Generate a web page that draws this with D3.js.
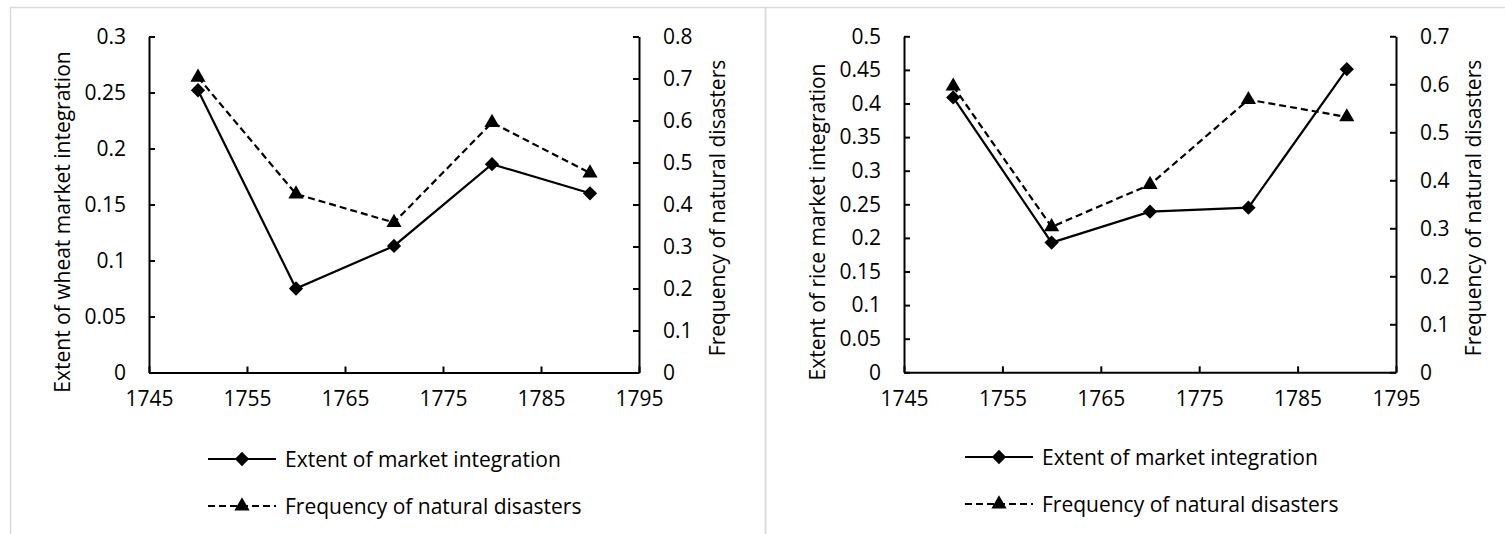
<!DOCTYPE html>
<html>
<head>
<meta charset="utf-8">
<script src="https://cdn.jsdelivr.net/npm/d3@7"></script>
<style>
  body { margin: 0; background: white; }
  svg { display: block; font-family: "Open Sans", sans-serif; }
</style>
</head>
<body>
<div id="container"></div>
<script>
let w = 1505;
let h = 534;

// DATA
let years = [1750, 1760, 1770, 1780, 1790];
let wheatIntegration = [0.252, 0.075, 0.113, 0.186, 0.160];
let wheatDisasters = [0.703, 0.425, 0.357, 0.595, 0.475];
let riceIntegration = [0.409, 0.193, 0.239, 0.245, 0.451];
let riceDisasters = [0.596, 0.303, 0.391, 0.568, 0.532];

let xTicks = [1745, 1755, 1765, 1775, 1785, 1795];
let wheatLeftTicks = [0, 0.05, 0.1, 0.15, 0.2, 0.25, 0.3];
let wheatRightTicks = [0, 0.1, 0.2, 0.3, 0.4, 0.5, 0.6, 0.7, 0.8];
let riceLeftTicks = [0, 0.05, 0.1, 0.15, 0.2, 0.25, 0.3, 0.35, 0.4, 0.45, 0.5];
let riceRightTicks = [0, 0.1, 0.2, 0.3, 0.4, 0.5, 0.6, 0.7];

let legendLabels = ["Extent of market integration", "Frequency of natural disasters"];

let fontSize = 21;

let viz = d3.select("#container").append("svg")
    .attr("width", w)
    .attr("height", h);

// chart frames
viz.append("rect")
    .attr("x", 10.5).attr("y", 7.5)
    .attr("width", 755).attr("height", 600)
    .attr("fill", "none").attr("stroke", "#d9d9d9").attr("stroke-width", 1.5);
viz.append("rect")
    .attr("x", 765.5).attr("y", 7.5)
    .attr("width", 800).attr("height", 600)
    .attr("fill", "none").attr("stroke", "#d9d9d9").attr("stroke-width", 1.5);

let diamond = d3.symbol().type(d3.symbolDiamond2).size(130);
let triangle = d3.symbol().type(d3.symbolTriangle).size(100);

function fmt(v) {
  return String(+v.toFixed(2));
}

function drawChart(cfg) {
  let g = viz.append("g");

  let x = d3.scaleLinear().domain([1745, 1795]).range([cfg.left, cfg.right]);
  let yL = d3.scaleLinear().domain([0, cfg.leftMax]).range([cfg.bottom, cfg.top]);
  let yR = d3.scaleLinear().domain([0, cfg.rightMax]).range([cfg.bottom, cfg.top]);

  // axes
  let xAxis = d3.axisBottom(x).tickValues(xTicks).tickSizeInner(-6).tickSizeOuter(0).tickPadding(19).tickFormat(d3.format("d"));
  let leftAxis = d3.axisLeft(yL).tickValues(cfg.leftTicks).tickSizeInner(-6).tickSizeOuter(0).tickPadding(23).tickFormat(fmt);
  let rightAxis = d3.axisRight(yR).tickValues(cfg.rightTicks).tickSizeInner(-6).tickSizeOuter(0).tickPadding(24).tickFormat(fmt);

  let axes = [
    g.append("g").attr("transform", "translate(0," + cfg.bottom + ")").call(xAxis),
    g.append("g").attr("transform", "translate(" + cfg.left + ",0)").call(leftAxis),
    g.append("g").attr("transform", "translate(" + cfg.right + ",0)").call(rightAxis)
  ];
  axes.forEach(a => {
    a.select(".domain").attr("stroke", "black").attr("stroke-width", 2);
    a.selectAll(".tick line").attr("stroke", "black").attr("stroke-width", 2);
    a.selectAll(".tick text").attr("font-size", fontSize).attr("fill", "black")
      .attr("font-family", "'Open Sans', sans-serif");
  });

  // axis titles
  g.append("text")
      .attr("transform", "translate(" + cfg.leftTitleX + ",222) rotate(-90)")
      .attr("text-anchor", "middle")
      .attr("dominant-baseline", "central")
      .attr("font-size", fontSize)
      .text(cfg.leftTitle);
  g.append("text")
      .attr("transform", "translate(" + cfg.rightTitleX + ",208) rotate(-90)")
      .attr("text-anchor", "middle")
      .attr("dominant-baseline", "central")
      .attr("font-size", fontSize)
      .text("Frequency of natural disasters");

  let integ = years.map((d, i) => ({year: d, v: cfg.integration[i]}));
  let dis = years.map((d, i) => ({year: d, v: cfg.disasters[i]}));

  let lineL = d3.line().x(d => x(d.year)).y(d => yL(d.v));
  let lineR = d3.line().x(d => x(d.year)).y(d => yR(d.v));

  g.append("path").datum(integ)
      .attr("d", lineL).attr("fill", "none")
      .attr("stroke", "black").attr("stroke-width", 2.2);
  g.append("path").datum(dis)
      .attr("d", lineR).attr("fill", "none")
      .attr("stroke", "black").attr("stroke-width", 2.2)
      .attr("stroke-dasharray", "7,4");

  g.selectAll(".dia").data(integ).enter()
    .append("path")
      .attr("class", "dia")
      .attr("d", diamond)
      .attr("transform", d => "translate(" + x(d.year) + "," + yL(d.v) + ")")
      .attr("fill", "black");
  g.selectAll(".tri").data(dis).enter()
    .append("path")
      .attr("class", "tri")
      .attr("d", triangle)
      .attr("transform", d => "translate(" + x(d.year) + "," + yR(d.v) + ")")
      .attr("fill", "black");

  // LEGEND
  let lg = g.append("g").attr("transform", "translate(" + cfg.legendX + ",0)");
  legendLabels.forEach((label, i) => {
    let ly = cfg.legendY[i];
    lg.append("line")
        .attr("x1", 0).attr("x2", 68).attr("y1", ly).attr("y2", ly)
        .attr("stroke", "black").attr("stroke-width", 2.2)
        .attr("stroke-dasharray", i == 0 ? null : "7,4");
    lg.append("path")
        .attr("d", i == 0 ? diamond : triangle)
        .attr("transform", "translate(34," + ly + ")")
        .attr("fill", "black");
    lg.append("text")
        .attr("x", 77).attr("y", ly)
        .attr("dominant-baseline", "central")
        .attr("font-size", fontSize)
        .text(label);
  });
}

drawChart({
  left: 149, right: 639, top: 36.5, bottom: 372.5,
  leftMax: 0.3, rightMax: 0.8,
  leftTicks: wheatLeftTicks, rightTicks: wheatRightTicks,
  integration: wheatIntegration, disasters: wheatDisasters,
  leftTitle: "Extent of wheat market integration",
  leftTitleX: 62, rightTitleX: 717,
  legendX: 208, legendY: [459, 506]
});

drawChart({
  left: 904, right: 1396, top: 36.3, bottom: 372.3,
  leftMax: 0.5, rightMax: 0.7,
  leftTicks: riceLeftTicks, rightTicks: riceRightTicks,
  integration: riceIntegration, disasters: riceDisasters,
  leftTitle: "Extent of rice market integration",
  leftTitleX: 817, rightTitleX: 1473,
  legendX: 965, legendY: [457, 504]
});
</script>
</body>
</html>
